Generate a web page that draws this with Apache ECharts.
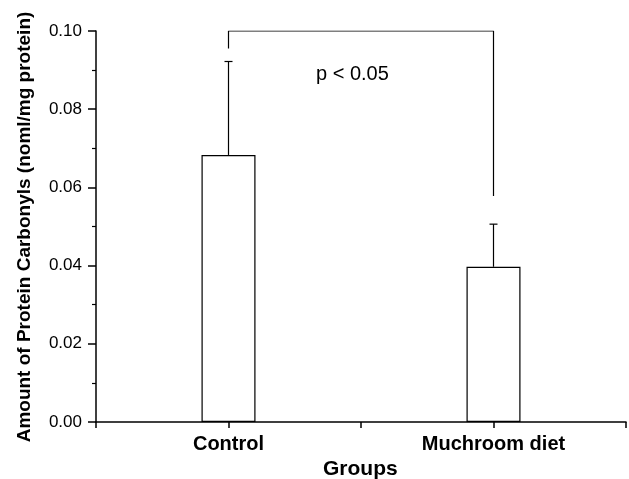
<!DOCTYPE html>
<html><head><meta charset="utf-8">
<script src="https://cdn.jsdelivr.net/npm/echarts@6/dist/echarts.min.js"></script>
<style>html,body{margin:0;padding:0;background:#fff}#c{width:629px;height:479px}</style>
</head><body><div id="c"></div>
<script>
var categories = ['Control', 'Muchroom diet'];
var categoryPos = [1, 3];
var means = [0.0683, 0.0397];
var errTops = [0.0922, 0.0506];
var bracketX = [1, 1, 3, 3];
var bracketY = [0.0955, 0.1, 0.1, 0.0578];

var chart = echarts.init(document.getElementById('c'));
var font = 'Arial, "Liberation Sans", sans-serif';
chart.setOption({
  animation: false,
  grid: {left: 96, right: 2, top: 31, bottom: 57},
  xAxis: {
    type: 'value', min: 0, max: 4, interval: 1,
    axisLine: {lineStyle: {color: '#000', width: 1.5}},
    axisTick: {show: true, length: 6, inside: false, lineStyle: {color: '#000', width: 1.5}},
    splitLine: {show: false},
    axisLabel: {
      color: '#000', fontFamily: font, fontWeight: 'bold', fontSize: 20, margin: 12,
      formatter: function (v) { var i = categoryPos.indexOf(v); return i >= 0 ? categories[i] : ''; }
    }
  },
  yAxis: {
    type: 'value', min: 0, max: 0.1, interval: 0.02,
    axisLine: {show: true, lineStyle: {color: '#000', width: 1.5}},
    axisTick: {show: true, length: 8, lineStyle: {color: '#000', width: 1.5}},
    minorTick: {show: true, splitNumber: 2, length: 4, lineStyle: {color: '#000', width: 1.2}},
    splitLine: {show: false},
    axisLabel: {color: '#000', fontFamily: font, fontSize: 17, margin: 14,
      formatter: function (v) { return v.toFixed(2); }}
  },
  series: [
    {
      type: 'bar', barWidth: 54,
      data: categoryPos.map(function (x, i) { return [x, means[i]]; }),
      itemStyle: {color: '#fff', borderColor: '#000', borderWidth: 1.2}
    },
    {
      type: 'custom',
      data: categoryPos.map(function (x, i) { return [x, means[i], errTops[i]]; }),
      renderItem: function (params, api) {
        var b = api.coord([api.value(0), api.value(1)]);
        var t = api.coord([api.value(0), api.value(2)]);
        var st = {stroke: '#000', lineWidth: 1.2};
        return {type: 'group', children: [
          {type: 'line', shape: {x1: b[0], y1: b[1], x2: t[0], y2: t[1]}, style: st},
          {type: 'line', shape: {x1: t[0] - 4, y1: t[1], x2: t[0] + 4, y2: t[1]}, style: st}
        ]};
      },
      z: 3
    },
    {
      type: 'line', symbol: 'none',
      data: bracketX.map(function (x, i) { return [x, bracketY[i]]; }),
      lineStyle: {color: '#000', width: 1.2},
      z: 4
    }
  ],
  graphic: [
    {type: 'text', x: 316, y: 74, style: {text: 'p < 0.05', fill: '#000', font: '20px ' + font, verticalAlign: 'middle'}},
    {type: 'text', x: 323, y: 469, style: {text: 'Groups', fill: '#000', font: 'bold 21px ' + font, verticalAlign: 'middle'}},
    {type: 'text', x: 25, y: 227, rotation: Math.PI / 2,
      style: {text: 'Amount of Protein Carbonyls (noml/mg protein)', fill: '#000',
        font: 'bold 19px ' + font, align: 'center', verticalAlign: 'middle'}}
  ]
});
</script></body></html>
